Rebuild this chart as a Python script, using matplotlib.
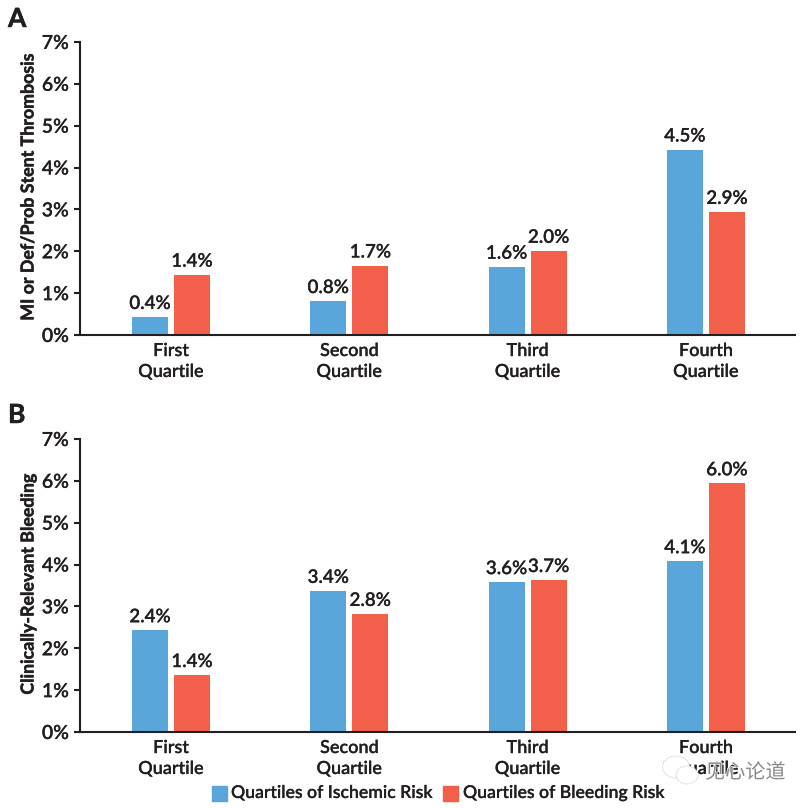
import matplotlib
matplotlib.use("Agg")
import matplotlib.pyplot as plt
from matplotlib.patches import Ellipse, Rectangle
import matplotlib.patheffects as pe
import numpy as np

plt.rcParams["font.family"] = ["Lato", "Noto Sans CJK SC", "DejaVu Sans"]

quartiles = ["First\nQuartile", "Second\nQuartile", "Third\nQuartile", "Fourth\nQuartile"]
yticks = [0, 1, 2, 3, 4, 5, 6, 7]

# bar heights and the printed labels (the printed ones differ a little)
a_ischemic = [0.43, 0.81, 1.63, 4.43]
a_bleeding = [1.44, 1.66, 2.01, 2.94]
a_ischemic_lab = ["0.4%", "0.8%", "1.6%", "4.5%"]
a_bleeding_lab = ["1.4%", "1.7%", "2.0%", "2.9%"]

b_ischemic = [2.43, 3.37, 3.58, 4.08]
b_bleeding = [1.36, 2.82, 3.63, 5.94]
b_ischemic_lab = ["2.4%", "3.4%", "3.6%", "4.1%"]
b_bleeding_lab = ["1.4%", "2.8%", "3.7%", "6.0%"]

BLUE = "#5aa6da"
RED = "#f25f4a"
INK = "#231f20"
W, H = 809, 808

# thicken the text a bit, the installed weights come out lighter than the original
THIN = [pe.withStroke(linewidth=0.1, foreground=INK)]
THICK = [pe.withStroke(linewidth=0.35, foreground=INK)]


def draw_panel(fig, box, ischemic, bleeding, isch_lab, bleed_lab, ylabel, letter, letter_y):
    left, top, right, bottom = box
    ax = fig.add_axes([left / W, 1 - bottom / H, (right - left) / W, (bottom - top) / H])
    x = np.arange(4)
    bw = 36 / 178.3
    off = 21 / 178.3
    ax.bar(x - off, ischemic, bw, color=BLUE)
    ax.bar(x + off, bleeding, bw, color=RED)
    for i in x:
        ax.text(i - off, ischemic[i] + 0.12, isch_lab[i], ha="center", va="bottom",
                fontsize=13.5, fontweight="semibold", color=INK, path_effects=THIN)
        ax.text(i + off, bleeding[i] + 0.12, bleed_lab[i], ha="center", va="bottom",
                fontsize=13.5, fontweight="semibold", color=INK, path_effects=THIN)
    ax.set_xlim(-0.51, 3.5)
    ax.set_ylim(0, 7)
    ax.set_yticks(yticks)
    ax.set_yticklabels([f"{v}%" for v in yticks], fontsize=14, fontweight="semibold", color=INK)
    ax.set_xticks(x)
    ax.set_xticklabels(quartiles, fontsize=13, fontweight="semibold", color=INK, linespacing=1.38)
    for lab in ax.get_xticklabels() + ax.get_yticklabels():
        lab.set_path_effects(THIN)
    ax.tick_params(axis="y", length=4, width=1.5, color=INK, pad=4)
    ax.tick_params(axis="x", length=0, pad=5.8)
    for side in ["top", "right"]:
        ax.spines[side].set_visible(False)
    for side in ["left", "bottom"]:
        ax.spines[side].set_linewidth(1.5)
        ax.spines[side].set_color(INK)
    fig.text(28 / W, 1 - (top + bottom) / 2 / H + 0.002, ylabel, rotation=90, ha="center", va="center",
             fontsize=12.8, fontweight="bold", color=INK, path_effects=THICK)
    fig.text(8 / W, 1 - letter_y / H, letter, ha="left", va="center", fontsize=19,
             fontweight="bold", color=INK, path_effects=THICK)
    return ax


fig = plt.figure(figsize=(W / 100, H / 100), dpi=100)
draw_panel(fig, (80, 42, 795, 335), a_ischemic, a_bleeding, a_ischemic_lab, a_bleeding_lab,
           "MI or Def/Prob Stent Thrombosis", "A", 19)
draw_panel(fig, (80, 439, 795, 732), b_ischemic, b_bleeding, b_ischemic_lab, b_bleeding_lab,
           "Clinically-Relevant Bleeding", "B", 415)

# legend row
fig.patches.append(Rectangle((212 / W, 1 - 801 / H), 15 / W, 15 / H, color=BLUE, transform=fig.transFigure))
fig.patches.append(Rectangle((443 / W, 1 - 801 / H), 15 / W, 15 / H, color=RED, transform=fig.transFigure))
fig.text(231 / W, 1 - 793 / H, "Quartiles of Ischemic Risk", ha="left", va="center",
         fontsize=12.7, fontweight="semibold", color=INK, path_effects=THIN)
fig.text(463 / W, 1 - 793 / H, "Quartiles of Bleeding Risk", ha="left", va="center",
         fontsize=12.7, fontweight="semibold", color=INK, path_effects=THIN)

# watermark: chat bubbles over the last x label, then the account name
for cx, cy, ew, eh in [(676, 767, 27, 22), (687, 775, 22, 18)]:
    fig.add_artist(Ellipse((cx / W, 1 - cy / H), ew / W, eh / H, transform=fig.transFigure,
                           facecolor="white", edgecolor="#cccccc", linewidth=0.6,
                           linestyle=(0, (2, 1)), zorder=5))
fig.text(705 / W, 1 - 772 / H, "见心论道", ha="left", va="center", fontsize=14.5, color="#8a8a8a",
         zorder=6, path_effects=[pe.withStroke(linewidth=1, foreground="white")])

fig.savefig("out.png", dpi=100)
